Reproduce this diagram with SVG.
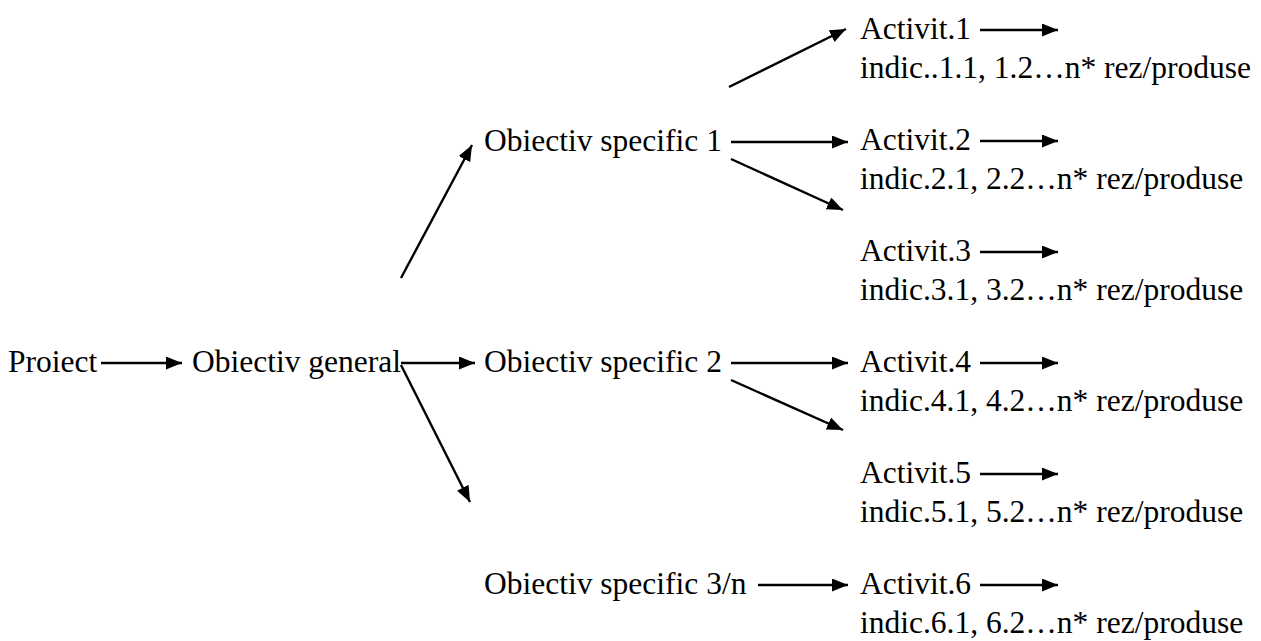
<svg xmlns="http://www.w3.org/2000/svg" width="1261" height="641" viewBox="0 0 1261 641">
<defs>
<marker id="ah" markerWidth="17" markerHeight="14" refX="16" refY="6.5" orient="auto" markerUnits="userSpaceOnUse">
<path d="M0,0 L16,6.5 L0,13 z" fill="#000"/>
</marker>
<style>
text{font-family:"Liberation Serif","Times New Roman",serif;font-size:31.5px;fill:#000}
.c line{stroke:#000;stroke-width:2.4;marker-end:url(#ah)}
</style>
</defs>
<rect width="1261" height="641" fill="#fff"/>
<g id="proiect"><text x="8" y="372">Proiect</text></g>
<g id="obiectiv-general"><text x="192" y="372">Obiectiv general</text></g>
<g id="os1"><text x="484" y="151">Obiectiv specific 1</text></g>
<g id="os2"><text x="484" y="372">Obiectiv specific 2</text></g>
<g id="os3"><text x="484" y="594">Obiectiv specific 3/n</text></g>
<g id="a1"><text x="860" y="39">Activit.1</text><text x="860" y="78">indic..1.1, 1.2…n* rez/produse</text></g>
<g id="a2"><text x="860" y="150">Activit.2</text><text x="860" y="189">indic.2.1, 2.2…n* rez/produse</text></g>
<g id="a3"><text x="860" y="261">Activit.3</text><text x="860" y="300">indic.3.1, 3.2…n* rez/produse</text></g>
<g id="a4"><text x="860" y="372">Activit.4</text><text x="860" y="411">indic.4.1, 4.2…n* rez/produse</text></g>
<g id="a5"><text x="860" y="483">Activit.5</text><text x="860" y="522">indic.5.1, 5.2…n* rez/produse</text></g>
<g id="a6"><text x="860" y="594">Activit.6</text><text x="860" y="633">indic.6.1, 6.2…n* rez/produse</text></g>
<g id="connectors" class="c">
<line x1="101" y1="363" x2="182" y2="363"/>
<line x1="401" y1="363" x2="475" y2="363"/>
<line x1="401" y1="278" x2="472" y2="145"/>
<line x1="401" y1="365" x2="470" y2="502"/>
<line x1="731" y1="142" x2="848" y2="142"/>
<line x1="731" y1="159" x2="843" y2="210"/>
<line x1="729" y1="87" x2="846" y2="29"/>
<line x1="731" y1="363" x2="848" y2="363"/>
<line x1="731" y1="380" x2="843" y2="430"/>
<line x1="758" y1="585" x2="848" y2="585"/>
<line x1="980" y1="30" x2="1058" y2="30"/>
<line x1="980" y1="141" x2="1058" y2="141"/>
<line x1="980" y1="252" x2="1058" y2="252"/>
<line x1="980" y1="363" x2="1058" y2="363"/>
<line x1="980" y1="474" x2="1058" y2="474"/>
<line x1="980" y1="585" x2="1058" y2="585"/>
</g>
</svg>
